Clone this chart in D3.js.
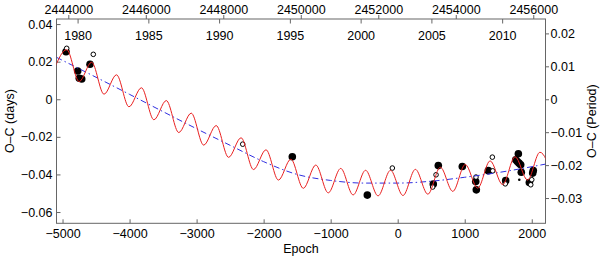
<!DOCTYPE html>
<html>
<head>
<meta charset="utf-8">
<script src="https://cdnjs.cloudflare.com/ajax/libs/d3/7.8.5/d3.min.js"></script>
<style>
  body { margin: 0; background: #fff; }
  svg { display: block; font-family: "Liberation Sans", Arial, Helvetica, sans-serif; }
</style>
</head>
<body>
<div id="oc_chart"></div>
<script>
// observed minima: filled = primary, open = secondary (epoch, O-C in days)
const filledEpoch = [-4948, -4774, -4750, -4714, -4590, -1572, -453, 531, 606, 964, 1164, 1173,
                     1352, 1611, 1800, 1761, 1785, 1810, 1835, 1844, 2023, 2014, 1964];
const filledOC = [0.0253, 0.0150, 0.0112, 0.0108, 0.0186, -0.0306, -0.0510, -0.0451, -0.0353, -0.0358,
                  -0.0438, -0.0482, -0.0380, -0.0433, -0.0290, -0.0322, -0.0331, -0.0340, -0.0349,
                  -0.0388, -0.0379, -0.0393, -0.0443];
const openEpoch = [-4938, -4541, -2312, -80, 522, 572, 1168, 1412, 1418, 1605, 1985, 2000];
const openOC = [0.0271, 0.0239, -0.0239, -0.0366, -0.0467, -0.0402, -0.0414, -0.0308, -0.0381,
                -0.0450, -0.0455, -0.0428];
const smallEpoch = [1814];
const smallOC = [-0.0428];

// quadratic ephemeris (blue dash-dot)
const trendEpoch = [-5090, -4500, -4000, -3500, -3000, -2500, -2000, -1500, -1000, -500, 0, 500, 1000, 1500, 2205];
const trendOC = [0.0223, 0.0117, 0.0026, -0.0066, -0.0157, -0.0245, -0.0332, -0.0400, -0.0432, -0.0446,
                 -0.0446, -0.0436, -0.0415, -0.0390, -0.0345];

// full fit (red), read at its crests and troughs
const fitEpoch = [-5124, -4938, -4752, -4566, -4381, -4195, -4009, -3823, -3637, -3452, -3266, -3080,
                  -2894, -2708, -2523, -2337, -2151, -1965, -1779, -1594, -1408, -1222, -1036, -850,
                  -665, -479, -293, -107, 79, 264, 450, 636, 822, 1008, 1193, 1379, 1565, 1751, 1937,
                  2122, 2308];
const fitOC = [0.0161, 0.0264, 0.0094, 0.0197, 0.0027, 0.0130, -0.0040, 0.0061, -0.0109, -0.0007,
               -0.0177, -0.0074, -0.0244, -0.0140, -0.0309, -0.0205, -0.0374, -0.0269, -0.0430,
               -0.0319, -0.0474, -0.0350, -0.0498, -0.0368, -0.0509, -0.0378, -0.0514, -0.0378,
               -0.0512, -0.0373, -0.0505, -0.0362, -0.0490, -0.0347, -0.0473, -0.0328, -0.0454,
               -0.0306, -0.0430, -0.0282, -0.0406];

const epochTicks = [-5000, -4000, -3000, -2000, -1000, 0, 1000, 2000];
const ocTicks = [-0.06, -0.04, -0.02, 0, 0.02, 0.04];
const periodTicks = [-0.03, -0.02, -0.01, 0, 0.01, 0.02];
const jdTicks = [2444000, 2446000, 2448000, 2450000, 2452000, 2454000, 2456000];
const yearTicks = [1980, 1985, 1990, 1995, 2000, 2005, 2010];

// ephemeris used for the secondary axes
const T0 = 2452501, P = 1.73, Pphase = 1.752;

const width = 600, height = 258;
const plot = { left: 56.5, right: 545.5, top: 19, bottom: 223.3 };
const fontSize = "12.5px";

const xDom = [-5090, 2205], yDom = [-0.066, 0.0427];
let xScale = d3.scaleLinear().domain(xDom).range([plot.left, plot.right]);
let yScale = d3.scaleLinear().domain(yDom).range([plot.bottom, plot.top]);
let yPhase = d3.scaleLinear().domain(yDom.map(d => d / Pphase)).range([plot.bottom, plot.top]);
let jdScale = d3.scaleLinear().domain(xDom.map(e => T0 + P * e)).range([plot.left, plot.right]);
const yearJD = y => 2451544.5 + 365.25 * (y - 2000);
let yearScale = d3.scaleLinear().domain(xDom.map(e => 2000 + (T0 + P * e - 2451544.5) / 365.25))
  .range([plot.left, plot.right]);

let svg = d3.select("#oc_chart").append("svg")
  .attr("width", width).attr("height", height);

svg.append("clipPath").attr("id", "clip")
  .append("rect")
  .attr("x", plot.left).attr("y", plot.top)
  .attr("width", plot.right - plot.left).attr("height", plot.bottom - plot.top);

const fmtOC = d => d === 0 ? "0" : d3.format(".2f")(d);
function styleAxis(g) {
  g.select(".domain").remove();
  g.selectAll(".tick line").attr("stroke", "#666");
  g.selectAll("text").attr("fill", "#000").style("font-size", fontSize);
}

// axes
svg.append("g").attr("transform", "translate(" + plot.left + ",0)")
  .call(d3.axisLeft(yScale).tickValues(ocTicks).tickFormat(fmtOC).tickSize(-4).tickPadding(4))
  .call(styleAxis);

svg.append("g").attr("transform", "translate(" + plot.right + ",0)")
  .call(d3.axisRight(yPhase).tickValues(periodTicks).tickFormat(fmtOC).tickSize(3.5).tickPadding(1.5))
  .call(styleAxis);

svg.append("g").attr("transform", "translate(0," + plot.bottom + ")")
  .call(d3.axisBottom(xScale).tickValues(epochTicks).tickFormat(d3.format("d")).tickSize(-4).tickPadding(6))
  .call(styleAxis);

svg.append("g").attr("transform", "translate(0," + plot.top + ")")
  .call(d3.axisTop(jdScale).tickValues(jdTicks).tickFormat(d3.format("d")).tickSize(4).tickPadding(1.5))
  .call(styleAxis);

svg.append("g").attr("transform", "translate(0," + plot.top + ")")
  .call(d3.axisBottom(yearScale).tickValues(yearTicks).tickFormat(d3.format("d")).tickSize(4.5).tickPadding(7.5))
  .call(styleAxis);

// frame
svg.append("rect")
  .attr("x", plot.left).attr("y", plot.top)
  .attr("width", plot.right - plot.left).attr("height", plot.bottom - plot.top)
  .attr("fill", "none").attr("stroke", "#666").attr("stroke-width", 1);

// points
svg.selectAll("circle.filled").data(filledEpoch).enter().append("circle")
  .attr("class", "filled")
  .attr("cx", d => xScale(d))
  .attr("cy", (d, i) => yScale(filledOC[i]))
  .attr("r", 3.8)
  .attr("fill", "#000");

svg.selectAll("circle.open").data(openEpoch).enter().append("circle")
  .attr("class", "open")
  .attr("cx", d => xScale(d))
  .attr("cy", (d, i) => yScale(openOC[i]))
  .attr("r", 2.3)
  .attr("fill", "#fff")
  .attr("stroke", "#000")
  .attr("stroke-width", 1);

svg.selectAll("circle.small").data(smallEpoch).enter().append("circle")
  .attr("class", "small")
  .attr("cx", d => xScale(d))
  .attr("cy", (d, i) => yScale(smallOC[i]))
  .attr("r", 1.3)
  .attr("fill", "#000");

// fit lines
let lineGen = (ex, ey) => d3.line()
  .x((d, i) => xScale(ex[i]))
  .y(d => yScale(d))
  .curve(d3.curveMonotoneX);

svg.append("path")
  .attr("clip-path", "url(#clip)")
  .attr("d", lineGen(trendEpoch, trendOC)(trendOC))
  .attr("fill", "none")
  .attr("stroke", "#3030e0")
  .attr("stroke-width", 1)
  .attr("stroke-dasharray", "6,3,1.5,3");

svg.append("path")
  .attr("clip-path", "url(#clip)")
  .attr("d", lineGen(fitEpoch, fitOC)(fitOC))
  .attr("fill", "none")
  .attr("stroke", "#e82020")
  .attr("stroke-width", 1);

// axis titles
svg.append("text")
  .attr("transform", "translate(14," + ((plot.top + plot.bottom) / 2) + ") rotate(-90)")
  .attr("text-anchor", "middle")
  .style("font-size", fontSize)
  .text("O–C (days)");

svg.append("text")
  .attr("transform", "translate(596," + ((plot.top + plot.bottom) / 2) + ") rotate(-90)")
  .attr("text-anchor", "middle")
  .style("font-size", fontSize)
  .text("O–C (Period)");

svg.append("text")
  .attr("x", (plot.left + plot.right) / 2)
  .attr("y", 253)
  .attr("text-anchor", "middle")
  .style("font-size", fontSize)
  .text("Epoch");
</script>
</body>
</html>
